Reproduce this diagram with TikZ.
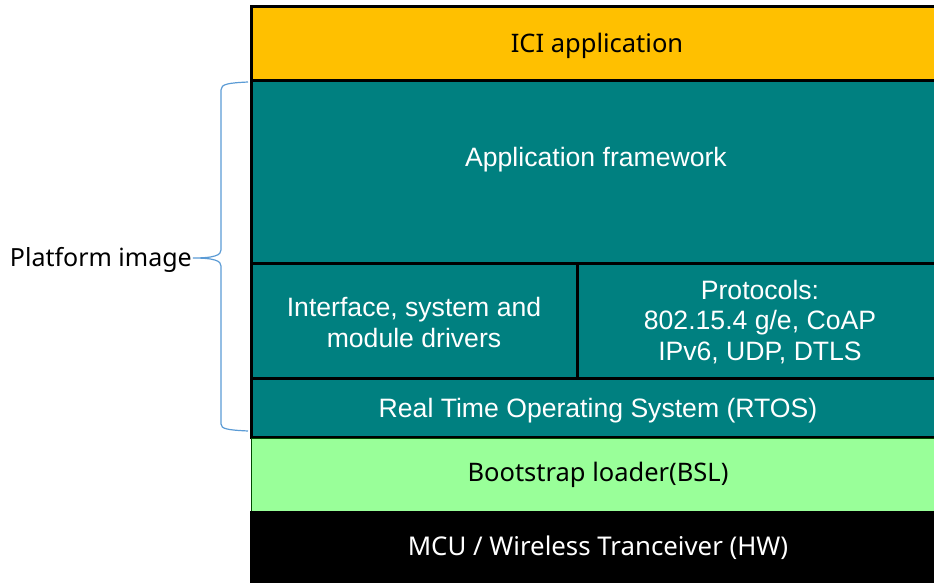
\documentclass[tikz,border=0pt]{standalone}
\usepackage{fontspec}
\setmainfont{Liberation Sans}
\newfontfamily\robo{Noto Sans}
\definecolor{iciyellow}{HTML}{FFC000}
\definecolor{teal}{HTML}{008080}
\definecolor{bslgreen}{HTML}{99FF99}
\definecolor{bracecol}{HTML}{5B9BD5}
\begin{document}
\begin{tikzpicture}[x=1pt,y=-1pt,
  layer/.style={draw=black,line width=3pt},
  tealtext/.style={text=white,font=\fontsize{26.6}{31}\selectfont,align=center},
  darktext/.style={text=black,font=\robo\fontsize{25.5}{30}\selectfont,align=center}]
\useasboundingbox (0,0) rectangle (934,583);
\begin{scope}
\clip (0,0) rectangle (934,583);
\filldraw[layer,fill=iciyellow] (251,7) rectangle (945,81);
\filldraw[layer,fill=teal] (251,81) rectangle (945,263);
\filldraw[layer,fill=teal] (251,263) rectangle (577,378);
\filldraw[layer,fill=teal] (577,263) rectangle (945,378);
\filldraw[layer,fill=teal] (251,378) rectangle (945,437);
\filldraw[draw=black!70!green,line width=1pt,fill=bslgreen] (251,438.5) rectangle (945,511);
\fill[black] (250,511) rectangle (945,590);
\end{scope}
\node[darktext] (ici) at (597,45.5) {ICI application};
\node[tealtext] (fw) at (596,159.5) {Application framework};
\node[tealtext] (drv) at (414,322) {Interface, system and\\module drivers};
\node[tealtext,font=\fontsize{26.6}{30.5}\selectfont] (proto) at (760,322) {Protocols:\\802.15.4 g/e, CoAP\\IPv6, UDP, DTLS};
\node[tealtext] (rtos) at (598,410.5) {Real Time Operating System (RTOS)};
\node[darktext] (bsl) at (598,474.5) {Bootstrap loader(BSL)};
\node[darktext,text=white,font=\robo\fontsize{25.8}{30}\selectfont] (mcu) at (598,547.5) {MCU / Wireless Tranceiver (HW)};
\node[darktext,anchor=east,inner sep=0pt,font=\robo\fontsize{25}{30}\selectfont] (plat) at (192,259.5) {Platform image};
\coordinate (btop) at (248,82);
\coordinate (bbot) at (248,431);
\draw[bracecol,line width=1.2pt]
  (btop) .. controls (228,83) and (221,84) .. (221,90)
  -- (221,250) .. controls (221,255) and (215,258) .. (193,258)
  .. controls (215,258) and (221,261) .. (221,266)
  -- (221,424) .. controls (221,429) and (228,430) .. (bbot);
\end{tikzpicture}
\end{document}
